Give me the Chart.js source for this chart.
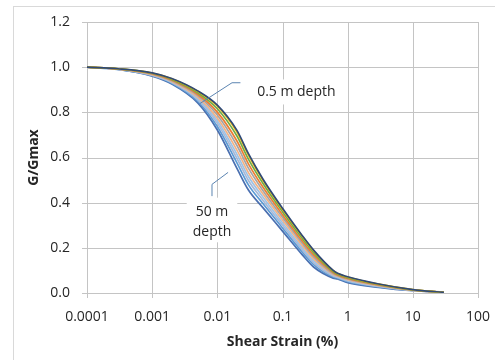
<!DOCTYPE html>
<html>
<head>
<meta charset="utf-8">
<script src="https://cdn.jsdelivr.net/npm/chart.js@4/dist/chart.umd.min.js"></script>
<style>
  html, body { margin: 0; padding: 0; background: #ffffff; }
  #wrap { width: 495px; height: 360px; position: relative; }
</style>
</head>
<body>
<div id="wrap"><canvas id="chart" width="495" height="360"></canvas></div>
<script>
// Shear strain (%) sampled for every modulus reduction curve
const strains = [0.0001, 0.0003, 0.001, 0.002, 0.005, 0.01, 0.02, 0.03, 0.05, 0.1, 0.2, 0.3, 0.6, 0.7, 1, 3, 10, 30];

// G/Gmax by depth, shallowest first
const depthLabels = ['0.5 m', '2 m', '5 m', '10 m', '15 m', '20 m', '25 m', '30 m', '40 m', '50 m'];
const gg_0_5m = [1.000, 0.993, 0.975, 0.950, 0.895, 0.832, 0.720, 0.617, 0.505, 0.375, 0.255, 0.190, 0.100, 0.087, 0.072, 0.040, 0.015, 0.003];
const gg_2m   = [1.000, 0.993, 0.974, 0.949, 0.893, 0.828, 0.713, 0.611, 0.500, 0.371, 0.252, 0.187, 0.099, 0.086, 0.071, 0.039, 0.015, 0.003];
const gg_5m   = [1.000, 0.993, 0.973, 0.946, 0.887, 0.816, 0.695, 0.593, 0.486, 0.360, 0.242, 0.179, 0.095, 0.083, 0.068, 0.038, 0.014, 0.003];
const gg_10m  = [1.000, 0.992, 0.971, 0.943, 0.880, 0.801, 0.673, 0.572, 0.469, 0.347, 0.231, 0.169, 0.091, 0.080, 0.065, 0.036, 0.014, 0.003];
const gg_15m  = [1.000, 0.992, 0.969, 0.940, 0.874, 0.788, 0.653, 0.553, 0.454, 0.335, 0.221, 0.160, 0.086, 0.077, 0.062, 0.034, 0.013, 0.003];
const gg_20m  = [1.000, 0.991, 0.967, 0.937, 0.867, 0.775, 0.633, 0.533, 0.439, 0.323, 0.211, 0.151, 0.082, 0.074, 0.059, 0.032, 0.012, 0.003];
const gg_25m  = [1.000, 0.991, 0.966, 0.934, 0.862, 0.763, 0.614, 0.516, 0.425, 0.311, 0.201, 0.143, 0.079, 0.071, 0.056, 0.031, 0.012, 0.003];
const gg_30m  = [1.000, 0.991, 0.964, 0.932, 0.856, 0.751, 0.596, 0.498, 0.411, 0.300, 0.192, 0.135, 0.075, 0.069, 0.053, 0.029, 0.011, 0.003];
const gg_40m  = [1.000, 0.990, 0.962, 0.929, 0.849, 0.737, 0.576, 0.479, 0.396, 0.288, 0.182, 0.126, 0.071, 0.066, 0.050, 0.027, 0.011, 0.003];
const gg_50m  = [1.000, 0.990, 0.960, 0.925, 0.842, 0.722, 0.552, 0.456, 0.378, 0.274, 0.170, 0.115, 0.066, 0.062, 0.046, 0.025, 0.010, 0.003];
const curveValues = [gg_0_5m, gg_2m, gg_5m, gg_10m, gg_15m, gg_20m, gg_25m, gg_30m, gg_40m, gg_50m];
const curveColors = ['#2F4A78', '#F2B705', '#70AD47', '#ED7D31', '#A5A5A5', '#F4B183', '#9DC3E6', '#A9B8D6', '#5B9BD5', '#4A6FB0'];

// Axis ticks
const xTickValues = [0.0001, 0.001, 0.01, 0.1, 1, 10, 100];
const xTickLabels = ['0.0001', '0.001', '0.01', '0.1', '1', '10', '100'];
const yTickValues = [0, 0.2, 0.4, 0.6, 0.8, 1.0, 1.2];
const yTickLabels = ['0.0', '0.2', '0.4', '0.6', '0.8', '1.0', '1.2'];

// Callout notes: text lines, anchor (strain, G/Gmax) and leader polyline
const noteTop = { lines: ['0.5 m depth'], at: [0.0408, 0.888], align: 'left',
                  leader: [[0.00535, 0.838], [0.0168, 0.931], [0.0226, 0.931]] };
const noteBottom = { lines: ['50 m', 'depth'], at: [0.00828, 0.36], align: 'center',
                     leader: [[0.01462, 0.534], [0.00828, 0.481], [0.00828, 0.429]] };
const notes = [noteTop, noteBottom];

const FONT = '"Open Sans", "Liberation Sans", sans-serif';
const TEXT = '#262626';
const GRID = '#c4c4c4';
const TICK_LEN = 5;

const datasets = curveValues.map((vals, i) => ({
  label: depthLabels[i],
  data: strains.map((s, j) => ({ x: s, y: vals[j] })),
  borderColor: curveColors[i],
  backgroundColor: curveColors[i],
  borderWidth: 1.7,
  pointRadius: 0,
  fill: false,
  cubicInterpolationMode: 'monotone'
}));

function noteBox(ctx, chart, note) {
  const xs = chart.scales.x, ys = chart.scales.y;
  ctx.font = '14px ' + FONT;
  const lh = 20.6;
  const w = Math.max(...note.lines.map(t => ctx.measureText(t).width));
  const ax = xs.getPixelForValue(note.at[0]);
  const ay = ys.getPixelForValue(note.at[1]);
  const left = note.align === 'left' ? ax : ax - w / 2;
  return { ax, ay, lh, w, left,
           box: note.align === 'left'
             ? [left - 16, ay - 13, w + 24, 25]
             : [left - 6, ay - 14, w + 12, lh * (note.lines.length - 1) + 24] };
}

const crisp = v => Math.round(v) + 0.5;

// Frame, gridlines with tick marks, note boxes and callout leaders
const annotate = {
  id: 'annotate',
  beforeDraw(chart) {
    const ctx = chart.ctx;
    ctx.save();
    ctx.strokeStyle = '#d9d9d9';
    ctx.lineWidth = 1;
    ctx.strokeRect(13.5, 6.5, 500, 400);
    ctx.restore();
  },
  beforeDatasetsDraw(chart) {
    const ctx = chart.ctx, xs = chart.scales.x, ys = chart.scales.y;
    const a = chart.chartArea;
    ctx.save();
    ctx.strokeStyle = GRID;
    ctx.lineWidth = 1;
    ctx.beginPath();
    xs.ticks.forEach(t => {
      const px = crisp(xs.getPixelForValue(t.value));
      ctx.moveTo(px, a.top);
      ctx.lineTo(px, a.bottom + TICK_LEN);
    });
    ys.ticks.forEach(t => {
      const py = crisp(ys.getPixelForValue(t.value));
      ctx.moveTo(a.left - TICK_LEN, py);
      ctx.lineTo(a.right, py);
    });
    ctx.stroke();
    ctx.fillStyle = '#ffffff';
    notes.forEach(n => {
      const b = noteBox(ctx, chart, n).box;
      ctx.fillRect(b[0], b[1], b[2], b[3]);
    });
    ctx.restore();
  },
  afterDatasetsDraw(chart) {
    const ctx = chart.ctx, xs = chart.scales.x, ys = chart.scales.y;
    ctx.save();
    ctx.strokeStyle = '#5B84B1';
    ctx.lineWidth = 1;
    notes.forEach(n => {
      ctx.beginPath();
      n.leader.forEach((p, k) => {
        const px = xs.getPixelForValue(p[0]), py = ys.getPixelForValue(p[1]);
        if (k === 0) ctx.moveTo(px, py); else ctx.lineTo(px, py);
      });
      ctx.stroke();
    });
    ctx.fillStyle = TEXT;
    ctx.textBaseline = 'middle';
    notes.forEach(n => {
      const g = noteBox(ctx, chart, n);
      ctx.textAlign = n.align;
      n.lines.forEach((t, k) => ctx.fillText(t, g.ax, g.ay + k * g.lh));
    });
    ctx.restore();
  }
};

new Chart(document.getElementById('chart'), {
  type: 'line',
  data: { datasets },
  options: {
    responsive: false,
    animation: false,
    layout: { padding: { left: 0, right: 17, top: 22, bottom: 0 } },
    plugins: { legend: { display: false }, tooltip: { enabled: false } },
    scales: {
      x: {
        type: 'logarithmic',
        min: 0.0001,
        max: 100,
        afterBuildTicks: s => { s.ticks = xTickValues.map(v => ({ value: v })); },
        afterFit: s => { s.height = 67; },
        ticks: {
          autoSkip: false, maxRotation: 0, padding: 3,
          color: TEXT, font: { family: FONT, size: 14 },
          callback: (v, i) => xTickLabels[i]
        },
        grid: { display: false, drawTicks: true, tickLength: 13 },
        border: { display: false },
        title: { display: true, text: 'Shear Strain (%)', color: TEXT,
                 font: { family: FONT, size: 14, weight: 'bold' },
                 padding: { top: 0, bottom: 10 } }
      },
      y: {
        type: 'linear',
        min: 0,
        max: 1.2,
        afterBuildTicks: s => { s.ticks = yTickValues.map(v => ({ value: v })); },
        afterFit: s => { s.width = 87; },
        ticks: {
          padding: 3, color: TEXT, font: { family: FONT, size: 14 },
          callback: (v, i) => yTickLabels[i]
        },
        grid: { display: false, drawTicks: true, tickLength: 14 },
        border: { display: false },
        title: { display: true, text: 'G/Gmax', color: TEXT,
                 font: { family: FONT, size: 14, weight: 'bold' },
                 padding: { top: 26, bottom: 0 } }
      }
    }
  },
  plugins: [annotate]
});
</script>
</body>
</html>
